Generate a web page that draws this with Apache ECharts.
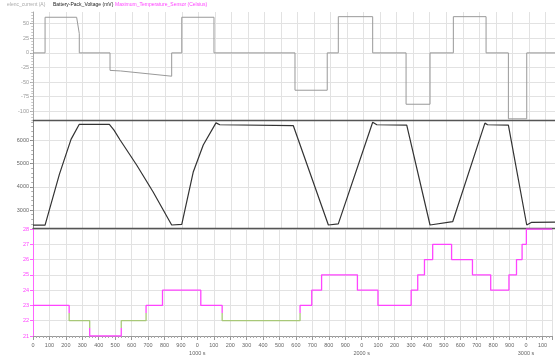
<!DOCTYPE html>
<html>
<head>
<meta charset="utf-8">
<script src="https://cdn.jsdelivr.net/npm/echarts@6/dist/echarts.min.js"></script>
<style>html,body{margin:0;padding:0;background:#fff}#c{width:555px;height:358px}</style>
</head>
<body>
<div id="c"></div>
<script>
// ---- data ----
const seriesNames = ['elenc_current (A)', 'Battery-Pack_Voltage (mV)', 'Maximum_Temperature_Sensor (Celsius)'];
const timeMax = 3158;

const currentT = [0, 73, 73, 264, 280, 280, 466, 466, 530, 839, 839, 900, 900, 1095, 1095, 1585, 1585, 1780, 1780, 1847, 1847, 2055, 2055, 2257, 2257, 2402, 2402, 2543, 2543, 2741, 2741, 2876, 2876, 2987, 2987, 3158];
const currentA = [0, 0, 61, 61, 33, 0, 0, -30, -31, -40, 0, 0, 61, 61, 0, 0, -64, -64, 0, 0, 62, 62, 0, 0, -88, -88, 0, 0, 62, 62, 0, 0, -113, -113, 0, 0];

const voltT = [0, 73, 160, 230, 280, 462, 490, 527, 627, 726, 839, 900, 970, 1030, 1107, 1130, 1575, 1787, 1847, 2055, 2080, 2261, 2402, 2539, 2734, 2750, 2876, 2987, 3017, 3158];
const voltMV = [2350, 2350, 4550, 6050, 6700, 6700, 6450, 6020, 4943, 3790, 2353, 2380, 4653, 5806, 6760, 6680, 6640, 2353, 2400, 6790, 6680, 6660, 2353, 2495, 6750, 6680, 6660, 2353, 2470, 2480];

const tempT = [0, 220, 345, 537, 688, 788, 1021, 1151, 1625, 1696, 1756, 1974, 2099, 2301, 2341, 2382, 2432, 2547, 2674, 2785, 2896, 2942, 2976, 3002, 3158];
const tempC = [23, 22, 21, 22, 23, 24, 23, 22, 23, 24, 25, 24, 23, 24, 25, 26, 27, 26, 25, 24, 25, 26, 27, 28, 28];

const currentTicks = [-100, -75, -50, -25, 0, 25, 50];
const voltTicks = [3000, 4000, 5000, 6000];
const tempTicks = [21, 22, 23, 24, 25, 26, 27, 28];

// ---- chart ----
const zip = (a, b) => a.map((v, i) => [v, b[i]]);
const FONT = 'Liberation Sans';
const gridLine = { show: true, lineStyle: { color: '#e2e2e2', width: 1 } };

function range(a, b, s) { const out = []; for (let v = a; v <= b + 1e-9; v += s) out.push(v); return out; }

function xAxisFor(idx, showLabels) {
  return {
    type: 'value', gridIndex: idx, min: 0, max: timeMax, interval: 100,
    axisLine: { show: true, onZero: false, lineStyle: { color: showLabels ? '#999' : '#555', width: showLabels ? 1 : 1.3 } },
    axisTick: { show: showLabels, length: 4, lineStyle: { color: '#999' } },
    minorTick: { show: showLabels, splitNumber: 5, length: 2, lineStyle: { color: '#aaa' } },
    splitLine: gridLine,
    axisLabel: showLabels ? {
      show: true, fontSize: 5.5, fontFamily: FONT, color: '#666', margin: 5, lineHeight: 8,
      formatter: function (v) {
        if (v % 100 !== 0) return '';
        const r = v % 1000;
        if (r === 0 && v > 0) return '0\n{u|' + v + ' s}';
        return String(r);
      },
      rich: { u: { fontSize: 5.5, fontFamily: FONT, color: '#666', lineHeight: 8 } }
    } : { show: false }
  };
}

function yAxisFor(idx, min, max, ticks, color, axisColor) {
  return {
    type: 'value', gridIndex: idx, min: min, max: max, position: 'left',
    axisLine: { show: true, lineStyle: { color: axisColor, width: 1 } },
    axisTick: { show: true, length: 3, customValues: ticks, lineStyle: { color: axisColor } },
    splitLine: gridLine,
    axisLabel: { show: true, customValues: ticks, fontSize: 5.5, fontFamily: FONT, color: color, margin: 4,
      formatter: v => String(v) }
  };
}
function minorAxisFor(idx, min, max, ticks, axisColor) {
  return {
    type: 'value', gridIndex: idx, min: min, max: max, position: 'left', offset: 0,
    axisLine: { show: false },
    axisTick: { show: true, length: 1.8, customValues: ticks, lineStyle: { color: axisColor, width: 0.8 } },
    splitLine: { show: false },
    axisLabel: { show: false }
  };
}

const chart = echarts.init(document.getElementById('c'), null, { renderer: 'canvas' });
chart.setOption({
  animation: false,
  backgroundColor: '#fff',
  grid: [
    { left: 33, right: 0, top: 12, height: 108 },
    { left: 33, right: 0, top: 121, height: 107 },
    { left: 33, right: 0, top: 229, height: 107 }
  ],
  xAxis: [xAxisFor(0, false), xAxisFor(1, false), xAxisFor(2, true)],
  yAxis: [
    yAxisFor(0, -115, 70, currentTicks, '#999', '#aaa'),
    yAxisFor(1, 2223, 6842, voltTicks, '#666', '#888'),
    yAxisFor(2, 21, 28, tempTicks, '#ff44ff', '#ff66ff'),
    minorAxisFor(0, -115, 70, range(-115, 70, 5), '#bbb'),
    minorAxisFor(1, 2223, 6842, range(2400, 6800, 200), '#999')
  ],
  visualMap: [{
    show: false, type: 'piecewise', seriesIndex: 2, dimension: 1,
    pieces: [{ gt: 21.5, lt: 22.5, color: '#a8c878' }],
    outOfRange: { color: '#ff44ff' }
  }],
  graphic: [
    { type: 'text', left: 7, top: 2.5, style: { text: seriesNames[0], fontSize: 5, fontFamily: FONT, fill: '#aaa' } },
    { type: 'text', left: 53, top: 2.5, style: { text: seriesNames[1], fontSize: 5, fontFamily: FONT, fill: '#222' } },
    { type: 'text', left: 115, top: 2.5, style: { text: seriesNames[2], fontSize: 5, fontFamily: FONT, fill: '#ff44ff' } }
  ],
  series: [
    { name: seriesNames[0], type: 'line', xAxisIndex: 0, yAxisIndex: 0, showSymbol: false, symbol: 'none',
      data: zip(currentT, currentA), lineStyle: { color: '#999', width: 1 }, itemStyle: { color: '#999' } },
    { name: seriesNames[1], type: 'line', xAxisIndex: 1, yAxisIndex: 1, showSymbol: false, symbol: 'none',
      data: zip(voltT, voltMV), lineStyle: { color: '#333', width: 1.2 }, itemStyle: { color: '#333' } },
    { name: seriesNames[2], type: 'line', step: 'end', xAxisIndex: 2, yAxisIndex: 2, showSymbol: false, symbol: 'none',
      data: zip(tempT, tempC), lineStyle: { width: 1.3 } }
  ]
});
</script>
</body>
</html>
